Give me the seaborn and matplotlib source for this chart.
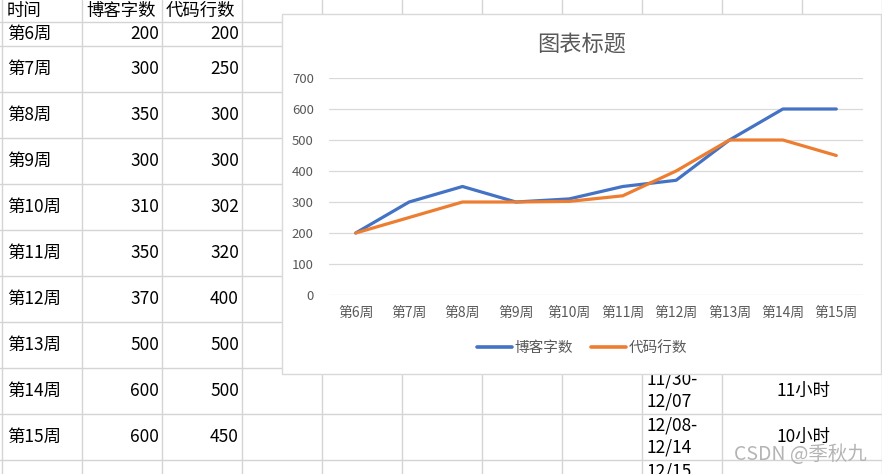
import matplotlib
matplotlib.use("Agg")
import matplotlib.pyplot as plt
import seaborn as sns
import pandas as pd
from matplotlib.patches import Rectangle
from matplotlib.lines import Line2D

# ---- data ----
weeks = ["第6周", "第7周", "第8周", "第9周", "第10周", "第11周", "第12周", "第13周", "第14周", "第15周"]
blog_words = [200, 300, 350, 300, 310, 350, 370, 500, 600, 600]
code_lines = [200, 250, 300, 300, 302, 320, 400, 500, 500, 450]
header = ["时间", "博客字数", "代码行数"]
series_names = ["博客字数", "代码行数"]
series_colors = ["#4472C4", "#ED7D31"]
chart_title = "图表标题"
y_ticks = [0, 100, 200, 300, 400, 500, 600, 700]
extra_dates = [["11/30-", "12/07"], ["12/08-", "12/14"], ["12/15", ""]]
extra_hours = ["11小时", "10小时"]
watermark = "CSDN @季秋九"

sns.set_theme(style="white")
plt.rcParams['font.family'] = ['Noto Sans CJK SC', 'DejaVu Sans']

W, H = 882, 474
fig = plt.figure(figsize=(W / 100, H / 100), dpi=100)
fig.patch.set_facecolor("white")

# background "spreadsheet" layer in pixel coordinates
bg = fig.add_axes([0, 0, 1, 1])
bg.set_xlim(0, W)
bg.set_ylim(H, 0)
bg.axis("off")

grid_c = "#D4D4D4"
col_edges = [2 + 80 * k for k in range(12)]
row_edges = [22] + [46 + 46 * k for k in range(10)]
for x in col_edges:
    if x == 802:
        bg.plot([x, x], [0, 368], color=grid_c, lw=1, zorder=1)  # merged cells below
    else:
        bg.plot([x, x], [0, H], color=grid_c, lw=1, zorder=1)
for y in row_edges:
    bg.plot([0, W], [y, y], color=grid_c, lw=1, zorder=1)

# table header
hdr_x = [7, 86, 166]
for x, t in zip(hdr_x, header):
    bg.text(x, 11, t, ha="left", va="center", fontsize=12.5, color="black", zorder=2)

# table rows
for i, (wk, b, c) in enumerate(zip(weeks, blog_words, code_lines)):
    if i == 0:
        top, bot = 22, 46
    else:
        top, bot = 46 + 46 * (i - 1), 46 + 46 * i
    yc = (top + bot) / 2
    bg.text(7, yc, wk, ha="left", va="center", fontsize=12.5, color="black", zorder=2)
    bg.text(159, yc, str(b), ha="right", va="center", fontsize=12.5, color="black", zorder=2)
    bg.text(239, yc, str(c), ha="right", va="center", fontsize=12.5, color="black", zorder=2)

# extra cells in the lower right
for j, (d1, d2) in enumerate(extra_dates):
    top = 368 + 46 * j
    bg.text(646, top + 12, d1, ha="left", va="center", fontsize=12.5, color="black", zorder=2)
    if d2:
        bg.text(646, top + 33, d2, ha="left", va="center", fontsize=12.5, color="black", zorder=2)
for j, hrs in enumerate(extra_hours):
    top = 368 + 46 * j
    bg.text(803, top + 23, hrs, ha="center", va="center", fontsize=12.5, color="black", zorder=2)

bg.text(867, 455, watermark, ha="right", va="center", fontsize=14, color="#B4B4B4", zorder=3)

# chart box
bg.add_patch(Rectangle((282, 14), 599, 360, facecolor="white", edgecolor="#D9D9D9", lw=1, zorder=5))

# ---- chart ----
ax = fig.add_axes([329 / W, 1 - 295 / H, (863 - 329) / W, (295 - 78) / H], zorder=10)
ax.patch.set_alpha(0)

df = pd.DataFrame({
    "周": weeks * 2,
    "值": blog_words + code_lines,
    "系列": [series_names[0]] * len(weeks) + [series_names[1]] * len(weeks),
})
sns.lineplot(data=df, x="周", y="值", hue="系列", palette=series_colors,
             linewidth=2.3, sort=False, legend=False, ax=ax)
for ln in ax.lines:
    ln.set_solid_capstyle("round")
    ln.set_solid_joinstyle("round")

ax.set_xlim(-0.5, len(weeks) - 0.5)
ax.set_ylim(0, 700)
ax.set_yticks(y_ticks)
ax.set_yticklabels([str(v) for v in y_ticks])
ax.set_xlabel("")
ax.set_ylabel("")
ax.grid(axis="y", color="#D9D9D9", lw=0.9)
ax.grid(axis="x", visible=False)
ax.set_axisbelow(True)
for s in ax.spines.values():
    s.set_visible(False)
ax.tick_params(axis="y", length=0, pad=11, labelsize=9.5, labelcolor="#595959")
ax.tick_params(axis="x", length=0, pad=8, labelsize=10, labelcolor="#595959")

fig.text(582 / W, 1 - 44 / H, chart_title, ha="center", va="center", fontsize=16, color="#595959", zorder=20)

handles = [Line2D([0], [0], color=c, lw=2.6, solid_capstyle="round") for c in series_colors]
fig.legend(handles, series_names, loc="center", bbox_to_anchor=(582 / W, 1 - 348 / H),
           ncol=2, frameon=False, fontsize=10.5, handlelength=2.4, handletextpad=0.2,
           columnspacing=1.2, labelcolor="#595959")

fig.savefig("out.png", dpi=100)
